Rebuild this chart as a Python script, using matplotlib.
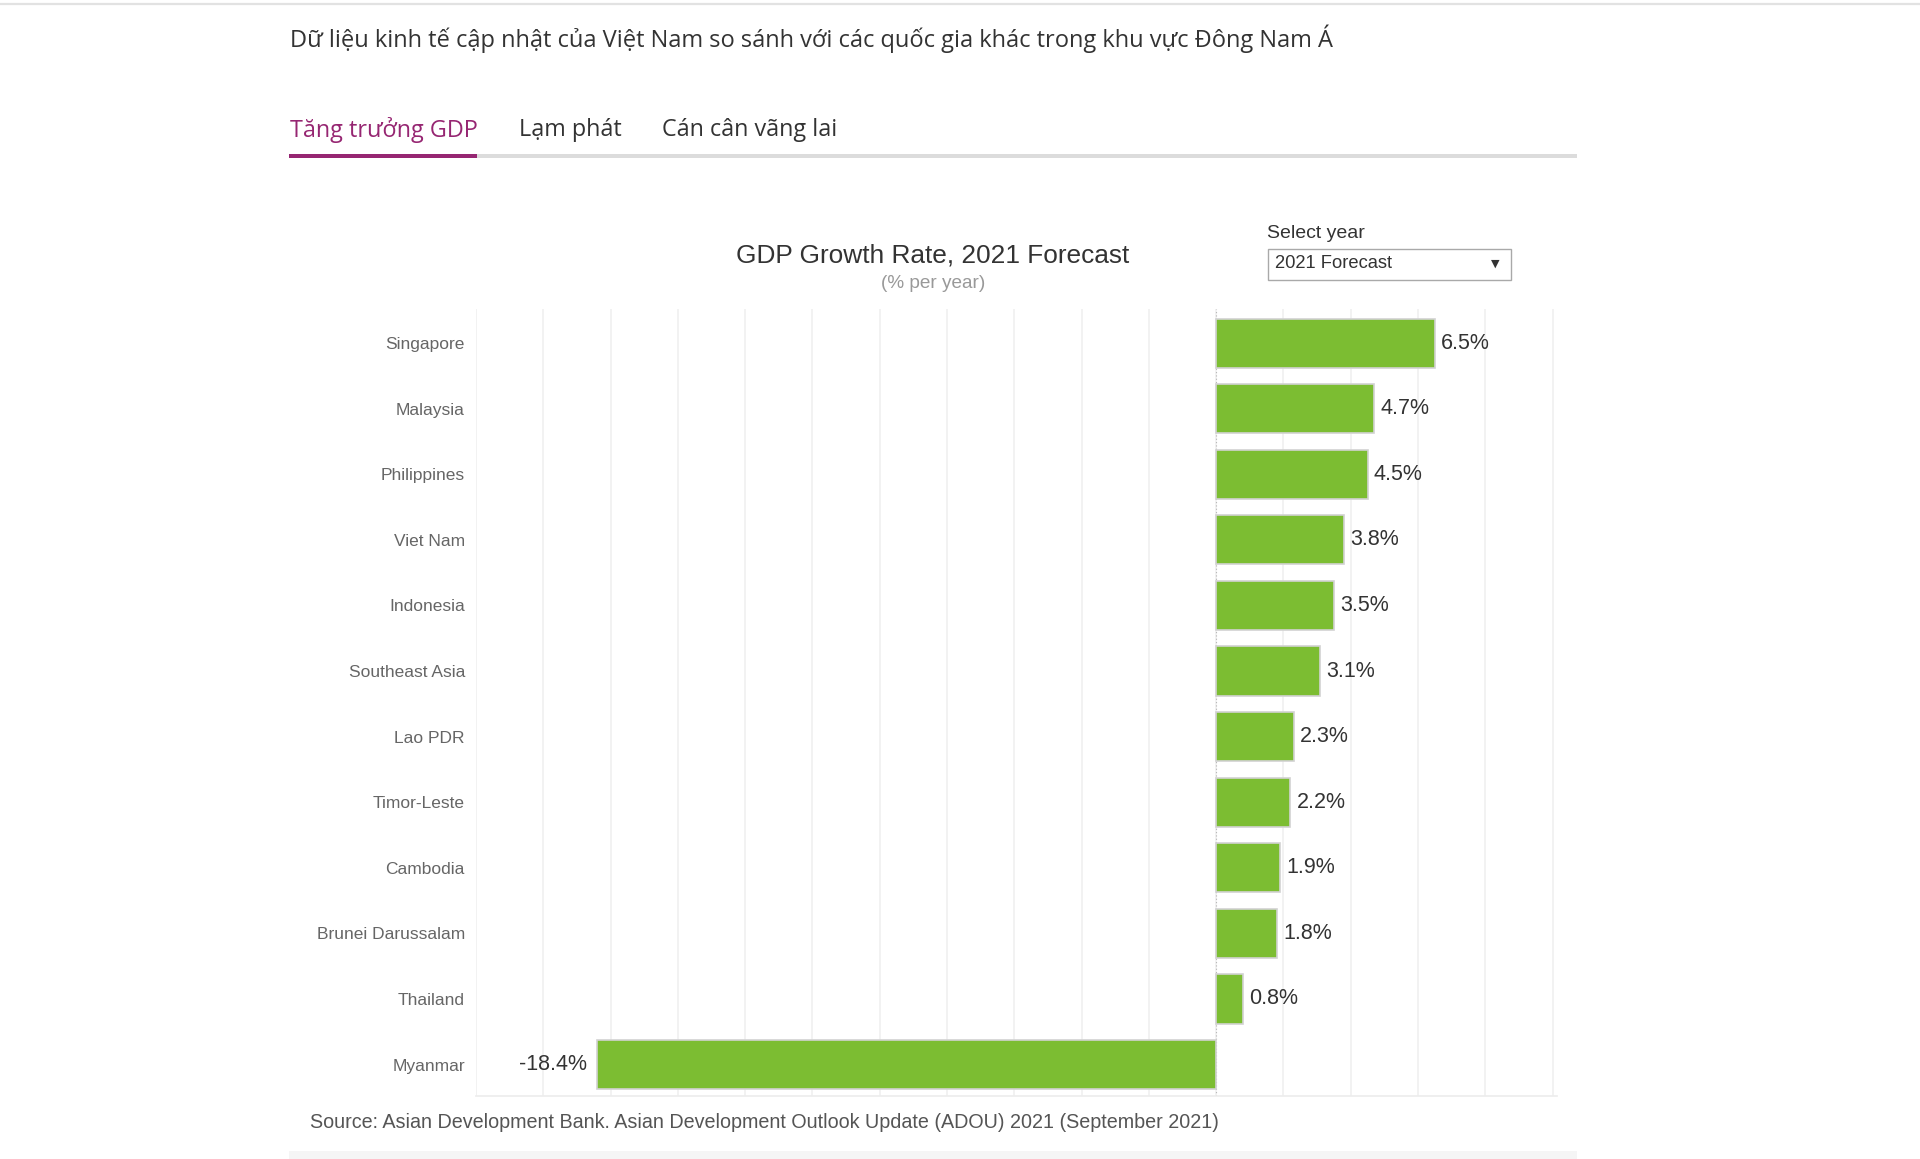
import numpy as np
import matplotlib
matplotlib.use("Agg")
import matplotlib.pyplot as plt
from matplotlib.patches import Rectangle
from matplotlib.lines import Line2D

# chart data
countries = ["Singapore", "Malaysia", "Philippines", "Viet Nam", "Indonesia",
             "Southeast Asia", "Lao PDR", "Timor-Leste", "Cambodia",
             "Brunei Darussalam", "Thailand", "Myanmar"]
growth = [6.5, 4.7, 4.5, 3.8, 3.5, 3.1, 2.3, 2.2, 1.9, 1.8, 0.8, -18.4]
grid_ticks = list(range(-22, 11, 2))

header = "Dữ liệu kinh tế cập nhật của Việt Nam so sánh với các quốc gia khác trong khu vực Đông Nam Á"
tabs = ["Tăng trưởng GDP", "Lạm phát", "Cán cân vãng lai"]
title = "GDP Growth Rate, 2021 Forecast"
subtitle = "(% per year)"
source = "Source: Asian Development Bank. Asian Development Outlook Update (ADOU) 2021 (September 2021)"

W, H = 1920, 1159
GREEN = "#7cbd32"
PURPLE = "#962672"

plt.rcParams["font.family"] = ["Liberation Sans", "DejaVu Sans"]
fig = plt.figure(figsize=(W / 100, H / 100), dpi=100)
fig.patch.set_facecolor("white")


def fx(x):
    return x / W


def fy(y):
    return 1 - y / H


# page decorations
fig.add_artist(Line2D([0, 1], [fy(3.5), fy(3.5)], color="#e2e2e2", lw=1.6,
                      transform=fig.transFigure))
fig.text(fx(290), fy(39), header, fontsize=17, color="#333333",
         family=["Open Sans", "DejaVu Sans"], va="center", ha="left")

tab_x = [290, 519, 662]
for i, (t, x) in enumerate(zip(tabs, tab_x)):
    fig.text(fx(x), fy(130), t, fontsize=16.8, va="center", ha="left",
             family=["Open Sans", "DejaVu Sans"],
             color=PURPLE if i == 0 else "#333333")
fig.add_artist(Rectangle((fx(289), fy(158)), fx(1577) - fx(289), 4 / H,
                         transform=fig.transFigure, color="#dcdcdc", lw=0))
fig.add_artist(Rectangle((fx(289), fy(158)), fx(477) - fx(289), 4 / H,
                         transform=fig.transFigure, color=PURPLE, lw=0))

# title + dropdown
fig.text(fx(933), fy(256), title, fontsize=18.9, color="#333333",
         ha="center", va="center")
fig.text(fx(933), fy(283), subtitle, fontsize=13.7, color="#999999",
         ha="center", va="center")
fig.text(fx(1267), fy(233), "Select year", fontsize=14, color="#333333",
         ha="left", va="center")
fig.add_artist(Rectangle((fx(1268), fy(280)), fx(1511) - fx(1268), 31 / H,
                         transform=fig.transFigure, facecolor="white",
                         edgecolor="#a9a9a9", lw=1))
fig.text(fx(1275), fy(264), "2021 Forecast", fontsize=13.2, color="#333333",
         ha="left", va="center")
fig.text(fx(1495), fy(264), "▼", fontsize=8, color="#333333",
         family=["DejaVu Sans"], ha="center", va="center")

# bar chart
ax = fig.add_axes([fx(476), fy(1096), fx(1557) - fx(476), (1096 - 309) / H])
y = np.arange(len(countries))
ax.barh(y, growth, height=0.75, color=GREEN, edgecolor="#d2d2d2",
        linewidth=1.2, zorder=3)
ax.axvline(0, color="#b5b5b5", lw=0.8, ls=(0, (1, 2)), zorder=2)

for yi, v in zip(y, growth):
    if v >= 0:
        ax.annotate(f"{v:.1f}%", (v, yi), xytext=(4.5, 0),
                    textcoords="offset points", ha="left", va="center",
                    fontsize=15.5, color="#333333")
    else:
        ax.annotate(f"{v:.1f}%", (v, yi), xytext=(-7, 0),
                    textcoords="offset points", ha="right", va="center",
                    fontsize=15.5, color="#333333")

ax.set_xlim(-22, 10.13)
ax.set_ylim(11.48, -0.52)
ax.set_xticks(grid_ticks)
ax.set_xticklabels([])
ax.tick_params(axis="x", length=0)
ax.set_yticks(y)
ax.set_yticklabels(countries, fontsize=12.5, color="#666666")
ax.tick_params(axis="y", length=0, pad=8)
ax.grid(axis="x", color="#f2f2f2", lw=1.4, zorder=0)
for s in ["top", "right", "left"]:
    ax.spines[s].set_visible(False)
ax.spines["bottom"].set_color("#ececec")
ax.spines["bottom"].set_linewidth(1.2)

fig.text(fx(310), fy(1122), source, fontsize=14.2, color="#555555",
         ha="left", va="center")
fig.add_artist(Rectangle((fx(289), 0), fx(1577) - fx(289), 8 / H,
                         transform=fig.transFigure, color="#f5f5f5", lw=0))

fig.savefig("out.png", dpi=100, facecolor="white")
